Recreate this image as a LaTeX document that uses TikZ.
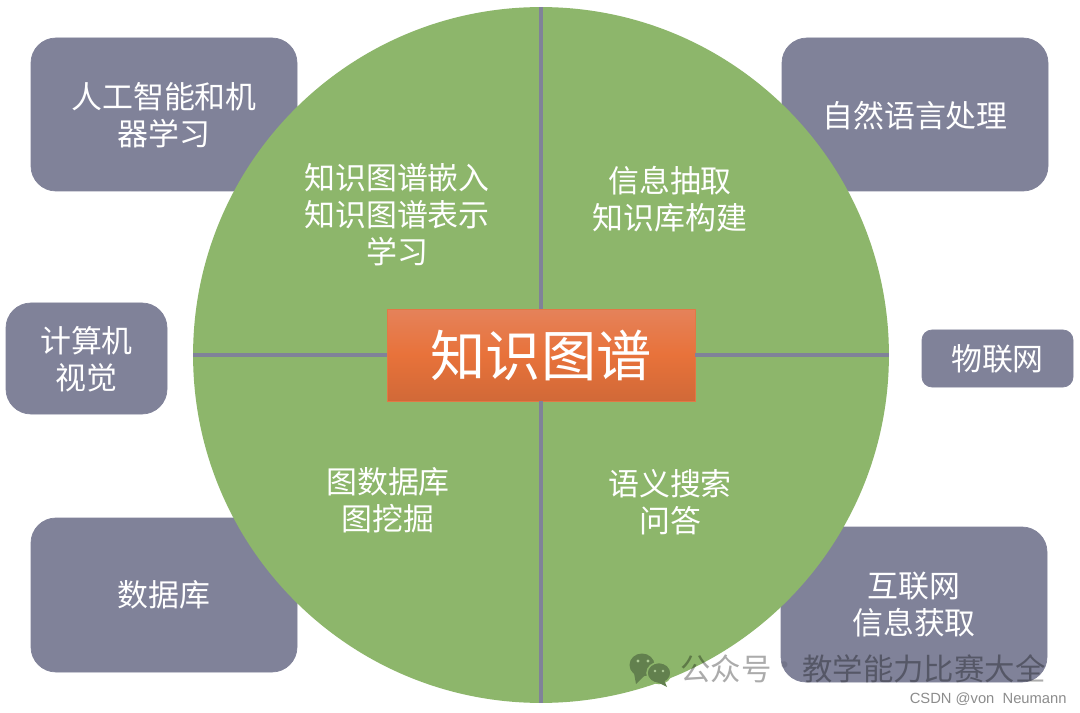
\documentclass[tikz,border=0pt]{standalone}
\usepackage{fontspec}
\setmainfont{Noto Sans CJK SC}
\newfontfamily\latinfont{Liberation Sans}
\usepackage{tikz}
\definecolor{topicbox}{RGB}{128, 130, 153}
\definecolor{disccolor}{RGB}{141, 182, 107}
\definecolor{hubtop}{RGB}{229, 130, 90}
\definecolor{hubmid}{RGB}{232, 114, 58}
\definecolor{hubbot}{RGB}{209, 105, 56}
\definecolor{hubline}{RGB}{226, 120, 70}
\definecolor{chaticon}{RGB}{98, 128, 78}
\tikzset{
	x=0.02cm, y=-0.02cm,
	topic/.style={draw=topicbox, fill=topicbox, rounded corners=0.5cm},
	toplabel/.style={text=white, align=center, font=\fontsize{17.6}{21}\selectfont},
	crossline/.style={draw=topicbox, line width=0.08cm},
	mark label/.style={text=black, text opacity=0.33, anchor=west, inner sep=0pt, font=\fontsize{17.3}{21}\selectfont}
}

\begin{document}
\begin{tikzpicture}
	\useasboundingbox [fill=white] (0, 0) rectangle (1080, 713);
	\filldraw [topic] (31, 38) rectangle (297, 191) node[midway, toplabel, yshift=-0.02cm] (ai) {人工智能和机\\器学习};
	\filldraw [topic] (782, 38) rectangle (1048, 191) node[midway, toplabel, yshift=-0.02cm] (nlp) {自然语言处理};
	\filldraw [topic] (6, 303) rectangle (167, 414) node[midway, toplabel, yshift=-0.02cm] (cv) {计算机\\视觉};
	\filldraw [topic, rounded corners=0.2cm] (922, 330) rectangle (1073, 387) node[midway, toplabel] (iot) {物联网};
	\filldraw [topic] (31, 518) rectangle (297, 672) node[midway, toplabel] (db) {数据库};
	\filldraw [topic] (781, 527) rectangle (1047, 682) node[midway, toplabel] (web) {互联网\\信息获取};

	\node [circle, fill=disccolor, minimum size=13.92cm, inner sep=0pt] (disc) at (541, 355) {};
	\node [rectangle, draw=hubline, top color=hubtop, bottom color=hubbot, middle color=hubmid, minimum width=6.16cm, minimum height=1.84cm, text=white, font=\fontsize{31.4}{36}\selectfont] (hub) at (541, 355) {知识图谱};

	\draw [crossline] (hub.north) -- (disc.north);
	\draw [crossline] (hub.south) -- (disc.south);
	\draw [crossline] (hub.west) -- (disc.west);
	\draw [crossline] (hub.east) -- (disc.east);

	\node [toplabel] (embed) at (397, 215) {知识图谱嵌入\\知识图谱表示\\学习};
	\node [toplabel] (extract) at (670, 199) {信息抽取\\知识库构建};
	\node [toplabel] (graphdb) at (388, 500) {图数据库\\图挖掘};
	\node [toplabel] (search) at (670, 502) {语义搜索\\问答};

	% watermark
	\fill [chaticon] (642, 665) ellipse (12.5 and 11.5);
	\fill [chaticon] (634, 673) -- (636, 684) -- (645, 675) -- cycle;
	\filldraw [draw=disccolor, line width=0.03cm, fill=chaticon] (659, 673) ellipse (12 and 10.5);
	\fill [chaticon] (664, 680) -- (667, 687) -- (657, 682) -- cycle;
	\fill [disccolor!70!white] (638, 661) circle (1.6);
	\fill [disccolor!70!white] (648, 661) circle (1.6);
	\fill [disccolor!70!white] (655, 671) circle (1.4);
	\fill [disccolor!70!white] (663, 671) circle (1.4);
	\node [mark label] (account) at (680, 669) {公众号};
	\node [mark label, anchor=center, text opacity=0.1] (markdot) at (785, 669) {·};
	\node [mark label] (markname) at (802, 669) {教学能力比赛大全};
	\node [text=black, text opacity=0.45, anchor=east, inner sep=0pt, font=\latinfont\fontsize{8.4}{10}\selectfont] (csdn) at (1067, 699) {CSDN @von\ \ Neumann};
\end{tikzpicture}
\end{document}
